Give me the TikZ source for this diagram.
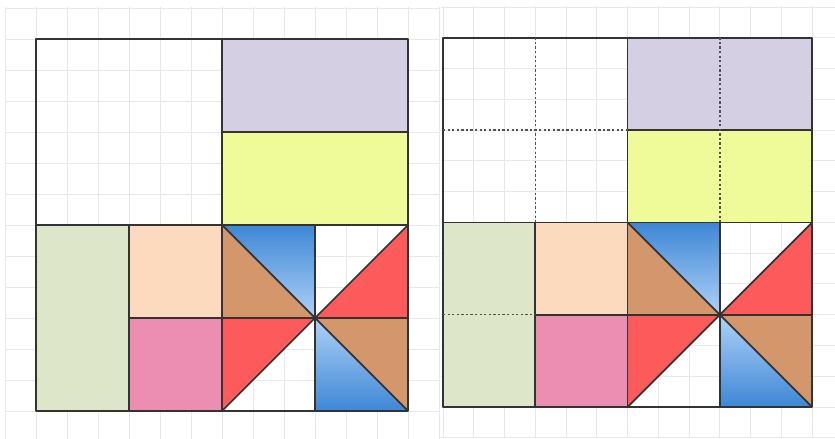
\documentclass[tikz,border=0pt]{standalone}
\usepackage{xcolor}
\usepackage{tikz}
\definecolor{tim}{HTML}{D5CFE3}
\definecolor{vang}{HTML}{EFFB98}
\definecolor{xanhla}{HTML}{DDE6C9}
\definecolor{dao}{HTML}{FBDABE}
\definecolor{hong}{HTML}{EB8EB1}
\definecolor{nau}{HTML}{D4966B}
\definecolor{do}{HTML}{FD5B5B}
\definecolor{lamdam}{HTML}{3E87D5}
\definecolor{lamnhat}{HTML}{AED1F7}
\definecolor{luoixam}{HTML}{E8E8E8}
\definecolor{vienxam}{HTML}{333333}

\begin{document}
\begin{tikzpicture}[luoi/.style={draw=luoixam, line width=0.5pt},
    vien/.style={draw=vienxam, line width=1pt, line join=round},
    chamcham/.style={draw=vienxam!85, line width=0.9pt, dash pattern=on 1.3pt off 1.3pt}]
    \useasboundingbox (0,0) rectangle (16.7,8.78);
    \fill[white] (0,0) rectangle (16.7,8.78);
    
    % Lưới nền
    \begin{scope}[shift={(0.72,0.56)}, x=1.86cm, y=1.86cm]
        \draw[luoi, step=0.33333] (-0.334,-0.3) grid (4.34,4.34);
    \end{scope}
    \begin{scope}[shift={(8.86,0.64)}, x=1.846cm, y=1.846cm]
        \draw[luoi, step=0.33333] (-0.02,-0.34) grid (4.25,4.34);
    \end{scope}
    
    % Hai hình vuông ghép
    \foreach \ox/\oy/\u in {0.72/0.56/1.86, 8.86/0.64/1.846} {
        \begin{scope}[shift={(\ox,\oy)}, x=\u cm, y=\u cm]
            % Các miếng màu
            \fill[tim] (2,3) rectangle (4,4);
            \fill[vang] (2,2) rectangle (4,3);
            \fill[xanhla] (0,0) rectangle (1,2);
            \fill[dao] (1,1) rectangle (2,2);
            \fill[hong] (1,0) rectangle (2,1);
            \fill[nau] (2,2) -- (2,1) -- (3,1) -- cycle;
            \fill[nau] (4,1) -- (4,0) -- (3,1) -- cycle;
            \fill[do] (3,1) -- (4,1) -- (4,2) -- cycle;
            \fill[do] (2,1) -- (3,1) -- (2,0) -- cycle;
            \shade[top color=lamdam, bottom color=lamnhat] (2,2) -- (3,2) -- (3,1) -- cycle;
            \shade[top color=lamnhat, bottom color=lamdam] (3,1) -- (3,0) -- (4,0) -- cycle;
            % Đường viền
            \draw[vien] (2,0) -- (2,4) (0,2) -- (4,2) (2,3) -- (4,3)
                (1,0) -- (1,2) (1,1) -- (4,1) (3,0) -- (3,2);
            \draw[vien] (2,2) -- (4,0) (2,0) -- (4,2);
            \draw[vien, line width=1.2pt] (0,0) rectangle (4,4);
        \end{scope}
    }
    
    % Đường chia nét chấm
    \begin{scope}[shift={(8.86,0.64)}, x=1.846cm, y=1.846cm]
        \draw[chamcham] (1,2) -- (1,4) (0,3) -- (2,3) (3,2) -- (3,4) (0,1) -- (1,1);
    \end{scope}
    
\end{tikzpicture}
\end{document}
